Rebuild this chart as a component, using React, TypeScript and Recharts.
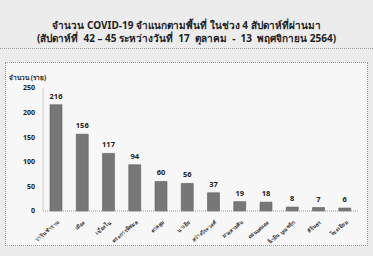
import { BarChart, Bar, XAxis, YAxis, LabelList } from 'recharts';

const districts = [
  'วารินชำราบ',
  'เมือง',
  'เขื่องใน',
  'ตระการพืชผล',
  'ตาลสุม',
  'นาเยีย',
  'สว่างวีระวงศ์',
  'ม่วงสามสิบ',
  'ดอนมดแดง',
  'น้ำยืน บุณฑริก',
  'สิรินธร',
  'โขงเจียม',
];
const cases = [216, 156, 117, 94, 60, 56, 37, 19, 18, 8, 7, 6];
const yTicks = [0, 50, 100, 150, 200, 250];

const data = districts.map((name, i) => ({ name, value: cases[i] }));

const FONT = '"Noto Sans", "DejaVu Sans", sans-serif';

function RotatedTick({ x, y, payload }: any) {
  return (
    <g transform={`translate(${x + 3},${y + 4})`}>
      <text
        transform="rotate(-40)"
        textAnchor="end"
        fontSize={5.2}
        fontWeight={700}
        fill="#333"
        fontFamily={FONT}
      >
        {payload.value}
      </text>
    </g>
  );
}

export default function App() {
  return (
    <div
      style={{
        position: 'absolute',
        left: 0,
        top: 0,
        width: 373,
        height: 256,
        background: '#ececec',
        fontFamily: FONT,
        overflow: 'hidden',
      }}
    >
      {/* title box */}
      <div
        style={{
          position: 'absolute',
          left: 0,
          top: 10,
          width: 373,
          height: 39,
          borderBottom: '1px dotted #9a9a9a',
          textAlign: 'center',
          fontSize: 10,
          fontWeight: 700,
          lineHeight: '12px',
          color: '#222',
          paddingTop: 9,
          boxSizing: 'border-box',
          whiteSpace: 'nowrap',
        }}
      >
        <div>จำนวน COVID-19 จำแนกตามพื้นที่ ในช่วง 4 สัปดาห์ที่ผ่านมา</div>
        <div style={{ marginTop: 1 }}>
          (สัปดาห์ที่&nbsp; 42 – 45 ระหว่างวันที่&nbsp; 17&nbsp; ตุลาคม&nbsp; -&nbsp; 13&nbsp; พฤศจิกายน 2564)
        </div>
      </div>

      {/* chart box */}
      <div
        style={{
          position: 'absolute',
          left: 5,
          top: 62,
          width: 363,
          height: 184,
          border: '1px dotted #9a9a9a',
          background: '#f7f7f7',
          boxSizing: 'border-box',
        }}
      >
        <div
          style={{
            position: 'absolute',
            left: 3,
            top: 10,
            fontSize: 6.5,
            fontWeight: 700,
            color: '#222',
          }}
        >
          จำนวน (ราย)
        </div>
        <BarChart
          width={361}
          height={182}
          data={data}
          margin={{ top: 25, right: 9, bottom: 0, left: 6 }}
          style={{ overflow: 'visible' }}
        >
          <XAxis
            dataKey="name"
            interval={0}
            tick={<RotatedTick />}
            tickLine={false}
            axisLine={{ stroke: '#999', strokeDasharray: '1 1' }}
            height={34}
          />
          <YAxis
            domain={[0, 250]}
            ticks={yTicks}
            width={31}
            tick={{ fontSize: 7, fontWeight: 700, fill: '#222', fontFamily: FONT }}
            tickLine={false}
            axisLine={{ stroke: '#ccc' }}
          />
          <Bar
            dataKey="value"
            fill="#777"
            stroke="#5e5e5e"
            strokeWidth={0.6}
            barSize={12}
            isAnimationActive={false}
          >
            <LabelList
              dataKey="value"
              position="top"
              offset={6}
              style={{ fontSize: 7.5, fontWeight: 700, fill: '#222', fontFamily: FONT }}
            />
          </Bar>
        </BarChart>
      </div>
    </div>
  );
}
